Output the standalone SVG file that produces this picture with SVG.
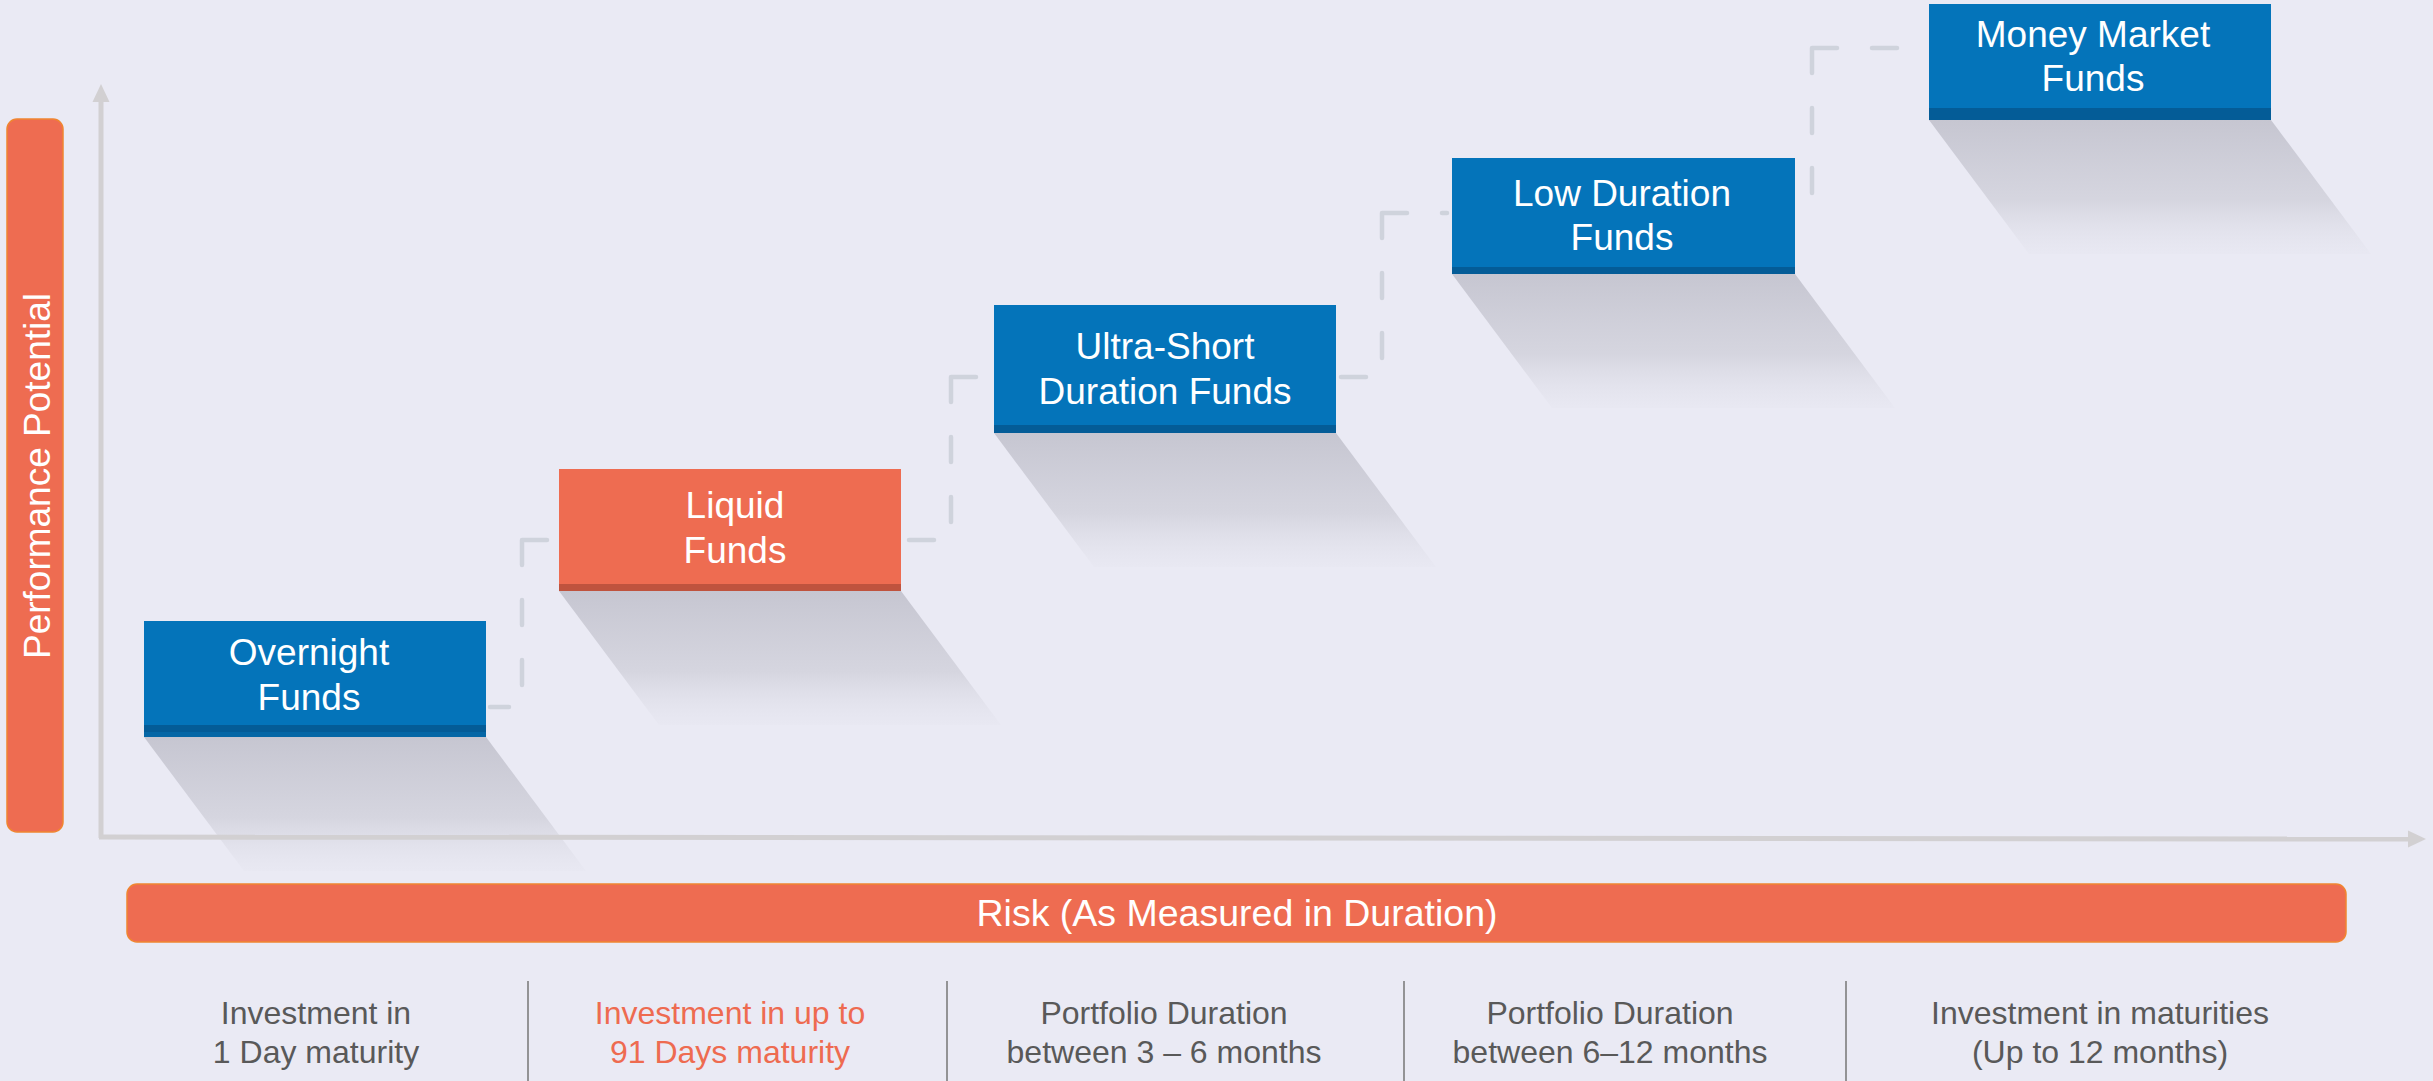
<svg xmlns="http://www.w3.org/2000/svg" width="2433" height="1081" viewBox="0 0 2433 1081">
  <style>
    .bx { fill: #0474BA; }
    .bxs { fill: #045C97; }
    .ox { fill: #EE6C51; }
    .oxs { fill: #BF533E; }
    .bt { font-family: "Liberation Sans", Arial, sans-serif; font-size: 37px; fill: #FFFFFF; text-anchor: middle; }
    .lb { font-family: "Liberation Sans", Arial, sans-serif; font-size: 32px; fill: #595959; text-anchor: middle; }
    .lbo { fill: #EE6B50; }
    .axis { stroke: #D2D0D2; stroke-width: 5; fill: none; }
    .dash { stroke: #CFD3DC; stroke-width: 4.5; fill: none; stroke-linecap: round; stroke-dasharray: 25 35; }
    .sep { stroke: #767676; stroke-width: 1.5; }
    .bar { fill: #EE6C51; stroke: #F08530; stroke-width: 1.5; }
    .shadow { fill: url(#shd); }
  </style>
  <defs>
    <linearGradient id="shd" x1="0" y1="0" x2="0" y2="1">
      <stop offset="0" stop-color="#C6C6D1" stop-opacity="1"/>
      <stop offset="0.6" stop-color="#D3D3DD" stop-opacity="0.9"/>
      <stop offset="1" stop-color="#E4E4EE" stop-opacity="0.3"/>
    </linearGradient>
  </defs>

  <rect x="0" y="0" width="2433" height="1081" fill="#EAEAF4"/>

  <!-- shadows -->
  <g id="shadows">
    <polygon class="shadow" points="144,737 486,737 586,871 244,871"/>
    <polygon class="shadow" points="559,591 901,591 1001,725 659,725"/>
    <polygon class="shadow" points="994,433 1336,433 1436,567 1094,567"/>
    <polygon class="shadow" points="1452,274 1795,274 1895,408 1552,408"/>
    <polygon class="shadow" points="1929,120 2271,120 2371,254 2029,254"/>
  </g>

  <!-- axes -->
  <g id="axes">
    <line class="axis" x1="101" y1="838" x2="101" y2="100"/>
    <polygon points="101,84 92.5,102 109.5,102" fill="#D2D0D2"/>
    <line class="axis" x1="99" y1="837" x2="2411" y2="839"/>
    <polygon points="2426,839 2408,830.5 2408,847.5" fill="#D2D0D2"/>
  </g>

  <!-- y-axis label bar -->
  <g id="performance-bar">
    <rect class="bar" x="7" y="119" width="56" height="713" rx="10" ry="10"/>
    <text class="bt" x="50" y="476" transform="rotate(-90 50 476)">Performance Potential</text>
  </g>

  <!-- connectors -->
  <g id="connectors">
    <path class="dash" d="M522 540 H554 M522 540 V707 H490"/>
    <path class="dash" d="M951 377 H989 M951 377 V540 H905"/>
    <path class="dash" d="M1382 213 H1447 M1382 213 V377 H1340"/>
    <path class="dash" d="M1812 48 H1924 M1812 48 V213 H1799"/>
  </g>

  <!-- nodes -->
  <g id="node-overnight">
    <rect class="bx" x="144" y="621" width="342" height="116"/>
    <rect class="bxs" x="144" y="725" width="342" height="7"/>
    <rect fill="#0567A6" x="144" y="732" width="342" height="5"/>
    <text class="bt" x="309" y="665">Overnight</text>
    <text class="bt" x="309" y="710">Funds</text>
  </g>
  <g id="node-liquid">
    <rect class="ox" x="559" y="469" width="342" height="122"/>
    <rect class="oxs" x="559" y="584" width="342" height="7"/>
    <text class="bt" x="735" y="518">Liquid</text>
    <text class="bt" x="735" y="563">Funds</text>
  </g>
  <g id="node-ultra">
    <rect class="bx" x="994" y="305" width="342" height="128"/>
    <rect class="bxs" x="994" y="425" width="342" height="8"/>
    <text class="bt" x="1165" y="359">Ultra-Short</text>
    <text class="bt" x="1165" y="404">Duration Funds</text>
  </g>
  <g id="node-low">
    <rect class="bx" x="1452" y="158" width="343" height="116"/>
    <rect class="bxs" x="1452" y="267" width="343" height="7"/>
    <text class="bt" x="1622" y="206">Low Duration</text>
    <text class="bt" x="1622" y="250">Funds</text>
  </g>
  <g id="node-money">
    <rect class="bx" x="1929" y="4" width="342" height="116"/>
    <rect class="bxs" x="1929" y="108" width="342" height="12"/>
    <text class="bt" x="2093" y="47">Money Market</text>
    <text class="bt" x="2093" y="91">Funds</text>
  </g>

  <!-- risk bar -->
  <g id="risk-bar">
    <rect class="bar" x="127" y="884" width="2219" height="58" rx="10" ry="10"/>
    <text class="bt" x="1237" y="926" style="font-size:37.5px">Risk (As Measured in Duration)</text>
  </g>

  <!-- bottom labels -->
  <g id="bottom-labels">
    <line class="sep" x1="528" y1="981" x2="528" y2="1081"/>
    <line class="sep" x1="947" y1="981" x2="947" y2="1081"/>
    <line class="sep" x1="1404" y1="981" x2="1404" y2="1081"/>
    <line class="sep" x1="1846" y1="981" x2="1846" y2="1081"/>
    <text class="lb" x="316" y="1024">Investment in</text>
    <text class="lb" x="316" y="1063">1 Day maturity</text>
    <text class="lb lbo" x="730" y="1024">Investment in up to</text>
    <text class="lb lbo" x="730" y="1063">91 Days maturity</text>
    <text class="lb" x="1164" y="1024">Portfolio Duration</text>
    <text class="lb" x="1164" y="1063">between 3 – 6 months</text>
    <text class="lb" x="1610" y="1024">Portfolio Duration</text>
    <text class="lb" x="1610" y="1063">between 6–12 months</text>
    <text class="lb" x="2100" y="1024">Investment in maturities</text>
    <text class="lb" x="2100" y="1063">(Up to 12 months)</text>
  </g>
</svg>
